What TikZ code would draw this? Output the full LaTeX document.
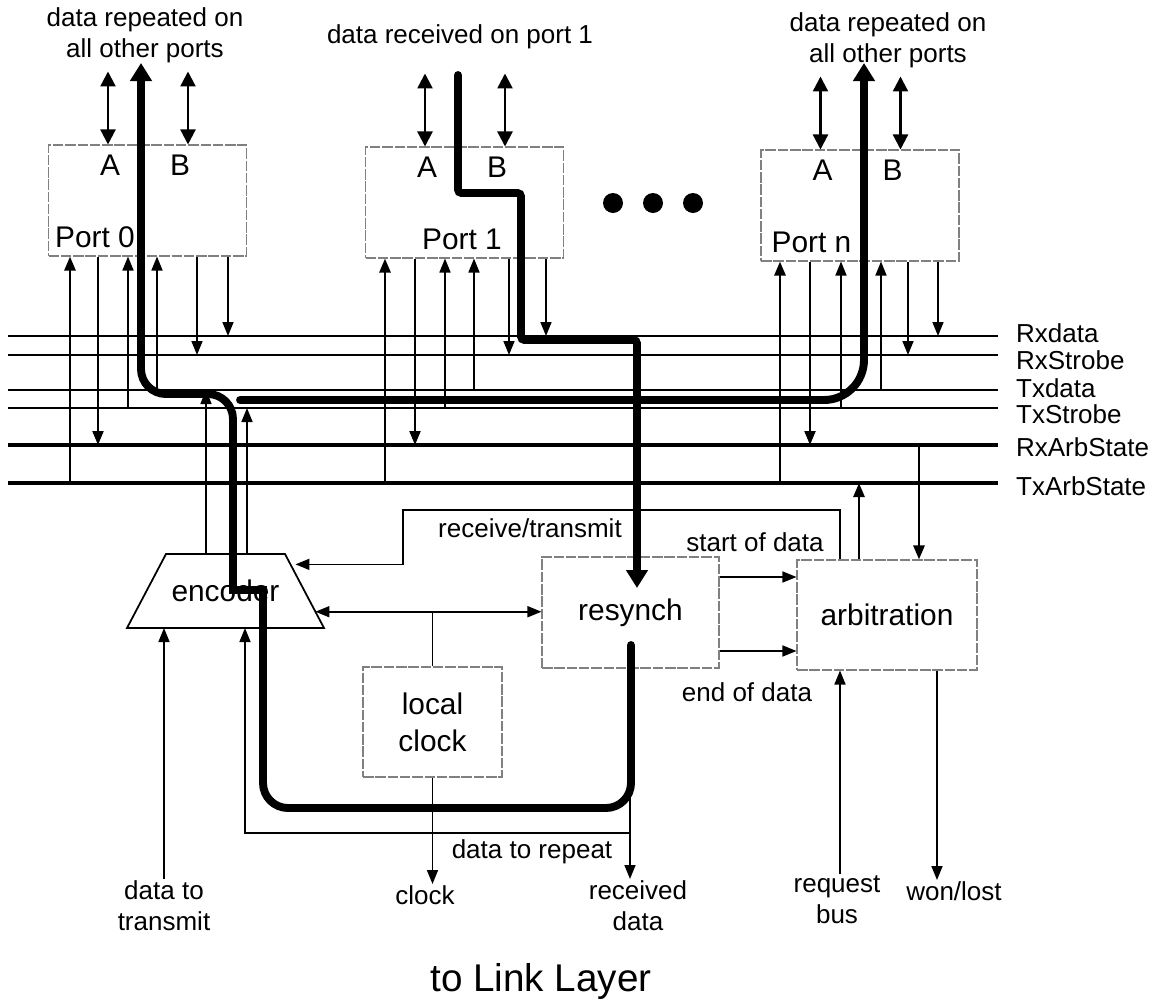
\documentclass[tikz,border=0pt]{standalone}
\usepackage{fontspec}
\setmainfont{Liberation Sans}
\usetikzlibrary{arrows.meta,positioning,calc}
\tikzset{
  blk/.style  ={draw=black!50,line width=0.6pt,dash pattern=on 6pt off 1pt,minimum width=3.96cm,minimum height=2.22cm,inner sep=0pt},
  txt/.style  ={font=\fontsize{14.8}{17.5}\selectfont,inner sep=1pt,align=center},
  big/.style  ={font=\fontsize{17}{21}\selectfont,inner sep=1pt,align=center},
  ar/.style   ={-{Triangle[length=0.28cm,width=0.22cm]},line width=0.9pt},
  ar2/.style  ={{Triangle[length=0.28cm,width=0.22cm]}-{Triangle[length=0.28cm,width=0.22cm]},line width=0.9pt},
  dar/.style  ={{Triangle[length=0.3cm,width=0.3cm]}-{Triangle[length=0.3cm,width=0.3cm]},line width=1.3pt},
  thk/.style  ={line width=4.5pt,line cap=round,rounded corners=0.5cm},
  thkar/.style={thk,-{Triangle[length=0.36cm,width=0.42cm]}},
  bus/.style  ={line width=0.9pt},
  arb/.style  ={line width=2pt},
  dot/.style  ={circle,fill=black,minimum size=0.4cm,inner sep=0pt},
}

\begin{document}
\begin{tikzpicture}[x=0.02cm,y=-0.02cm]
  \useasboundingbox (0,0) rectangle (1161,1005);

  % busses
  \foreach \bn/\by/\ly/\bt/\bs in {rxd/336/333/Rxdata/bus, rxs/355/360/RxStrobe/bus,
      txd/390/388/Txdata/bus, txs/408/414/TxStrobe/bus,
      rxa/445/447/RxArbState/arb, txa/483/486/TxArbState/arb} {
    \node[txt,anchor=west] (\bn-l) at (1014,\ly) {\bt};
    \draw[\bs] (8,\by) coordinate (\bn) -- (998,\by);
  }

  % ports
  \node[blk] (p0) at (147.5,200.5) {};
  \node[blk] (p1) at (464.5,202.5) {};
  \node[blk] (pn) at (860,205.5) {};
  \foreach \p/\n/\x in {p0/0/47, p1/1/97, pn/n/51} {
    \node[big] (\p-a) at ($(\p.north west)+(62,21)$) {A};
    \node[big] (\p-b) at ($(\p.north west)+(132,21)$) {B};
    \node[big] (\p-l) at ($(\p.north west)+(\x,93)$) {Port \n};
    \draw[dar] ($(\p.north west)+(60,-73)$) -- ($(\p.north west)+(60,0)$);
    \draw[dar] ($(\p.north west)+(140,-73)$) -- ($(\p.north west)+(140,0)$);
  }
  \foreach \p/\xa/\xb/\xc/\xd/\xe/\xf in {p0/70/98/128/157/197/228,
      p1/385/415/445/474/509/546, pn/780/810/841/881/908/938} {
    \draw[ar,line width=1.5pt] (\xa,0 |- txa) -- (\xa,0 |- \p.south);
    \draw[ar,line width=1.2pt] (\xb,0 |- \p.south) -- (\xb,0 |- rxa);
    \draw[ar] (\xc,0 |- txs) -- (\xc,0 |- \p.south);
    \draw[ar] (\xd,0 |- txd) -- (\xd,0 |- \p.south);
    \draw[ar] (\xe,0 |- \p.south) -- (\xe,0 |- rxs);
    \draw[ar] (\xf,0 |- \p.south) -- (\xf,0 |- rxd);
  }
  \node[dot] (d1) at (613,203) {};
  \node[dot] (d2) at (653,203) {};
  \node[dot] (d3) at (693,203) {};

  \node[txt] (t0) at (145,35) {data repeated on\\all other ports};
  \node[txt] (t1) at (460,37) {data received on port 1};
  \node[txt] (tn) at (888,40) {data repeated on\\all other ports};

  % physical layer blocks
  \coordinate (e1) at (127,628);
  \coordinate (e2) at (166,554);
  \coordinate (e3) at (285,554);
  \coordinate (e4) at (324,628);
  \draw[line width=1pt] (e1) -- (e2) -- (e3) -- (e4) -- cycle;
  \node[big] (enc) at (225.5,591) {encoder};
  \node[blk,big,minimum width=3.54cm] (rs) at (630.5,612.5) {resynch};
  \node[blk,big,minimum width=3.6cm,minimum height=2.2cm] (arb) at (887,615) {arbitration};
  \node[blk,big,minimum width=2.78cm,minimum height=2.2cm] (lc) at (432.5,722) {local\\clock};

  \node[txt] (rtl) at (530,528) {receive/transmit};
  \node[txt] (sod) at (755,542) {start of data};
  \node[txt] (eod) at (747,692) {end of data};
  \node[txt] (dtr) at (532,852) {data to repeat};
  \node[txt,anchor=north] (dtx) at (164,879) {data to\\transmit};
  \node[txt,anchor=north] (clk) at (425,884) {clock};
  \node[txt,anchor=north] (rcv) at (638,879) {received\\data};
  \node[txt,anchor=north] (req) at (837,874) {request\\bus};
  \node[txt,anchor=north] (won) at (954,880) {won/lost};
  \node[font=\fontsize{22}{26}\selectfont] (ll) at (541,981) {to Link Layer};

  \coordinate (rep) at (630,833);
  \coordinate (lt) at ($(e3)!0.78!(e4)$);
  \coordinate (rt) at ($(e3)!0.14!(e4)+(5,0)$);
  \coordinate (rsin) at (637,588);
  \coordinate (rsout) at (631,645);
  \coordinate (in1) at (458,75);

  \draw[ar] (206,0 |- e2) -- (206,0 |- txd);
  \draw[ar] (247,0 |- e2) -- (247,0 |- txs);
  \draw[ar] (dtx.north) -- (dtx.north |- e1);
  \draw[ar] (rep) -| (245,0 |- e1);
  \draw[ar] (rep |- rs.south) -- (rep |- rcv.north);
  \draw[ar] (lc.south) -- (lc.south |- clk.north);
  \draw[ar2] (lt) -- (lt -| rs.west);
  \draw (lc.north) -- (lc.north |- lt);
  \draw[ar] (840,0 |- arb.north) |- (403,510) |- (rt);
  \draw[ar] (rs.east |- 0,577) -- (arb.west |- 0,577);
  \draw[ar] (rs.east |- 0,651) -- (arb.west |- 0,651);
  \draw[ar,line width=1.5pt] (859,0 |- arb.north) -- (859,0 |- txa);
  \draw[ar,line width=1.5pt] (919,0 |- rxa) -- (919,0 |- arb.north);
  \draw[ar] (840,0 |- req.north) -- (840,0 |- arb.south);
  \draw[ar] (937,0 |- arb.south) -- (937,0 |- won.north);

  % data paths
  \draw[thkar] (rsout) -- (631,808) -- (263,808) -- (263,615)
    .. controls (263,590) and (233,590) .. (233,565) -- (233,394) -- (141,394) -- (141,63);
  \draw[thkar,rounded corners=0.8cm] (240,400) -- (864,400) -- (864,63);
  \draw[thkar,rounded corners=2pt] (in1) -- (458,193) -- (521,193) -- (521,340) -- (637,340) -- (rsin);
\end{tikzpicture}
\end{document}
